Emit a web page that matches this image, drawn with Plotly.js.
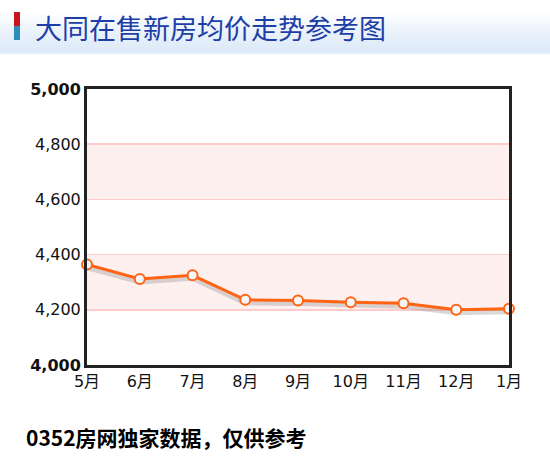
<!DOCTYPE html>
<html>
<head>
<meta charset="utf-8">
<script src="https://cdn.plot.ly/plotly-3.0.1.min.js"></script>
<style>
  html, body { margin: 0; padding: 0; background: #ffffff; }
  #wrap { position: relative; width: 550px; height: 467px; overflow: hidden; }
  #hdr { position: absolute; left: 0; top: 12px; width: 550px; height: 40px;
         background: linear-gradient(to bottom, #ffffff 0%, #eaf2fb 50%, #dce9f8 100%);
         border-bottom: 2px solid #e6eef9; }
  #barR { position: absolute; left: 14px; top: 12px; width: 6px; height: 14px; background: #c8141e; }
  #barB { position: absolute; left: 14px; top: 26px; width: 6px; height: 14px; background: #2c8cbc; }
  #chart { position: absolute; left: 0; top: 0; width: 550px; height: 467px; }
</style>
</head>
<body>
<div id="wrap">
  <div id="hdr"></div>
  <div id="barR"></div>
  <div id="barB"></div>
  <div id="chart"></div>
</div>
<script>
// ---- data ----
const months = ["5月", "6月", "7月", "8月", "9月", "10月", "11月", "12月", "1月"];
const prices = [4364, 4312, 4325, 4236, 4234, 4227, 4224, 4200, 4204];
const yTickVals = [4000, 4200, 4400, 4600, 4800, 5000];
const yTickText = ["<b>4,000</b>", "4,200", "4,400", "4,600", "4,800", "<b>5,000</b>"];
const titleText = "大同在售新房均价走势参考图";
const footText = "0352房网独家数据，仅供参考";

const shadow = prices.map(v => v - 11);

const traces = [
  {
    x: months, y: shadow, type: "scatter", mode: "lines",
    line: { color: "rgba(120,120,120,0.28)", width: 5 },
    hoverinfo: "skip", cliponaxis: false, showlegend: false
  },
  {
    x: months, y: prices, type: "scatter", mode: "lines+markers",
    line: { color: "#ff6414", width: 3 },
    marker: { size: 10, color: "#f4f6f8", line: { color: "#ff6414", width: 2 } },
    cliponaxis: false, showlegend: false
  }
];

const layout = {
  width: 550, height: 467,
  margin: { l: 87, r: 41, t: 89, b: 102 },
  paper_bgcolor: "rgba(0,0,0,0)",
  plot_bgcolor: "#ffffff",
  font: { family: "DejaVu Sans, 'Noto Sans CJK SC', sans-serif", color: "#111", size: 14 },
  xaxis: {
    type: "category", range: [0, 8], showgrid: false, zeroline: false,
    showline: true, mirror: true, linecolor: "#222", linewidth: 3,
    ticks: "", tickfont: { size: 16, color: "#111", family: "DejaVu Sans, 'Noto Sans CJK SC', sans-serif" }
  },
  yaxis: {
    range: [4000, 5000], tickvals: yTickVals, ticktext: yTickText,
    showgrid: true, gridcolor: "#ffcccc", gridwidth: 1.5, zeroline: false,
    showline: true, mirror: true, linecolor: "#222", linewidth: 3,
    ticks: "", tickfont: { size: 16, color: "#111" }
  },
  shapes: [
    { type: "rect", xref: "paper", yref: "y", x0: 0, x1: 1, y0: 4200, y1: 4400,
      fillcolor: "#fff0f0", line: { width: 0 }, layer: "below" },
    { type: "rect", xref: "paper", yref: "y", x0: 0, x1: 1, y0: 4600, y1: 4800,
      fillcolor: "#fff0f0", line: { width: 0 }, layer: "below" }
  ],
  annotations: [
    { text: titleText, xref: "paper", yref: "paper",
      x: (33 - 87) / 422, y: (365 - 28) / 276, xanchor: "left", yanchor: "middle",
      showarrow: false, font: { size: 27, color: "#1c3ea6", family: "'Noto Sans CJK SC', sans-serif" } },
    { text: "<b>" + footText + "</b>", xref: "paper", yref: "paper",
      x: (24 - 87) / 422, y: (365 - 437) / 276, xanchor: "left", yanchor: "middle",
      showarrow: false, font: { size: 21, color: "#000", family: "'Noto Sans CJK SC', sans-serif" } }
  ]
};

Plotly.newPlot("chart", traces, layout, { displayModeBar: false, staticPlot: true });
</script>
</body>
</html>
